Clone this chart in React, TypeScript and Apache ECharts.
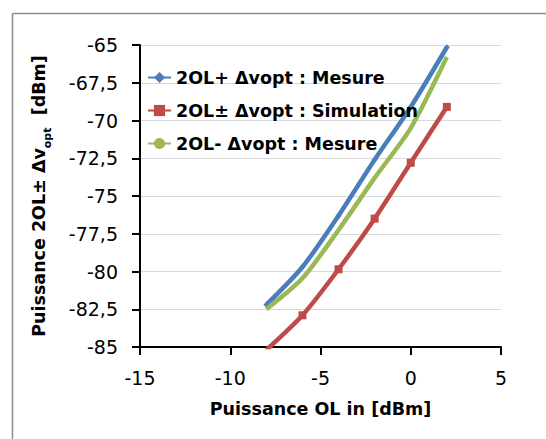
import React, { useEffect, useRef } from "react";
import * as echarts from "echarts";

const xValues = [-8, -6, -4, -2, 0, 2];
const bluePlus = [-82.2, -79.7, -76.3, -72.6, -69.1, -65.15];
const redSim = [-85.2, -82.9, -79.85, -76.5, -72.8, -69.1];
const greenMinus = [-82.5, -80.45, -77.25, -73.8, -70.5, -65.8];
const seriesNames = [
  "2OL+ Δvopt : Mesure",
  "2OL± Δvopt : Simulation",
  "2OL- Δvopt : Mesure",
];

const FONT = "DejaVu Sans";

export default function App() {
  const ref = useRef<HTMLDivElement>(null);
  useEffect(() => {
    if (!ref.current) return;
    const chart = echarts.init(ref.current, undefined, { renderer: "svg" });
    const pair = (ys: number[]) => xValues.map((x, i) => [x, ys[i]]);
    chart.setOption({
      animation: false,
      backgroundColor: "#ffffff",
      textStyle: { fontFamily: FONT },
      graphic: [
        { type: "line", shape: { x1: 12.5, y1: 13.5, x2: 560, y2: 13.5 }, style: { stroke: "#8c8c8c", lineWidth: 1.5 } },
        { type: "line", shape: { x1: 12.5, y1: 13.5, x2: 12.5, y2: 460 }, style: { stroke: "#8c8c8c", lineWidth: 1.5 } },
      ],
      grid: { left: 140, right: 45, top: 45, bottom: 92 },
      legend: {
        orient: "vertical",
        left: 142,
        top: 62,
        z: 20,
        itemGap: 12,
        itemWidth: 23,
        itemHeight: 14,
        data: seriesNames,
        textStyle: { fontFamily: FONT, fontWeight: "bold", fontSize: 17.5, lineHeight: 21, color: "#000" },
      },
      xAxis: {
        type: "value",
        min: -15,
        max: 5,
        interval: 5,
        name: "Puissance OL in [dBm]",
        nameLocation: "middle",
        nameGap: 53,
        nameTextStyle: { fontFamily: FONT, fontWeight: "bold", fontSize: 17.5, color: "#000" },
        axisLine: { onZero: false, lineStyle: { color: "#000", width: 2 } },
        axisTick: { show: true, length: 8, lineStyle: { color: "#000", width: 2 } },
        axisLabel: { margin: 21, fontFamily: FONT, fontSize: 19, color: "#000" },
        splitLine: { show: false },
      },
      yAxis: {
        type: "value",
        min: -85,
        max: -65,
        interval: 2.5,
        name: "{a|Puissance 2OL± Δv}{s|opt}{a|  [dBm]}",
        nameLocation: "middle",
        nameGap: 92,
        nameTextStyle: {
          rich: {
            a: { fontFamily: FONT, fontWeight: "bold", fontSize: 17.5, color: "#000", lineHeight: 24, verticalAlign: "bottom" },
            s: { fontFamily: FONT, fontWeight: "bold", fontSize: 11, color: "#000", lineHeight: 24, verticalAlign: "bottom", padding: [0, 0, -5, 0] },
          },
        },
        axisLine: { show: true, onZero: false, lineStyle: { color: "#000", width: 2 } },
        axisTick: { show: true, length: 8, lineStyle: { color: "#000", width: 2 } },
        axisLabel: {
          margin: 22,
          fontFamily: FONT,
          fontSize: 19,
          color: "#000",
          formatter: (v: number) => String(v).replace(".", ","),
        },
        splitLine: { show: true, lineStyle: { color: "#d9d9d9", width: 1 } },
      },
      series: [
        {
          name: seriesNames[0],
          type: "line",
          smooth: 0.25,
          data: pair(bluePlus),
          symbol: "diamond",
          symbolSize: 6,
          lineStyle: { color: "#4a7ebb", width: 4.5 },
          itemStyle: { color: "#4a7ebb" },
          z: 3,
        },
        {
          name: seriesNames[1],
          type: "line",
          smooth: 0.25,
          data: pair(redSim),
          symbol: "rect",
          symbolSize: 8,
          lineStyle: { color: "#be4b48", width: 4.5 },
          itemStyle: { color: "#be4b48" },
          clip: true,
          z: 2,
        },
        {
          name: seriesNames[2],
          type: "line",
          smooth: 0.25,
          data: pair(greenMinus),
          symbol: "none",
          lineStyle: { color: "#98b954", width: 4.5 },
          itemStyle: { color: "#98b954" },
          z: 4,
        },
      ],
    });
    return () => chart.dispose();
  }, []);
  return (
    <div
      ref={ref}
      style={{ position: "fixed", left: 0, top: 0, width: 546, height: 439 }}
    />
  );
}
